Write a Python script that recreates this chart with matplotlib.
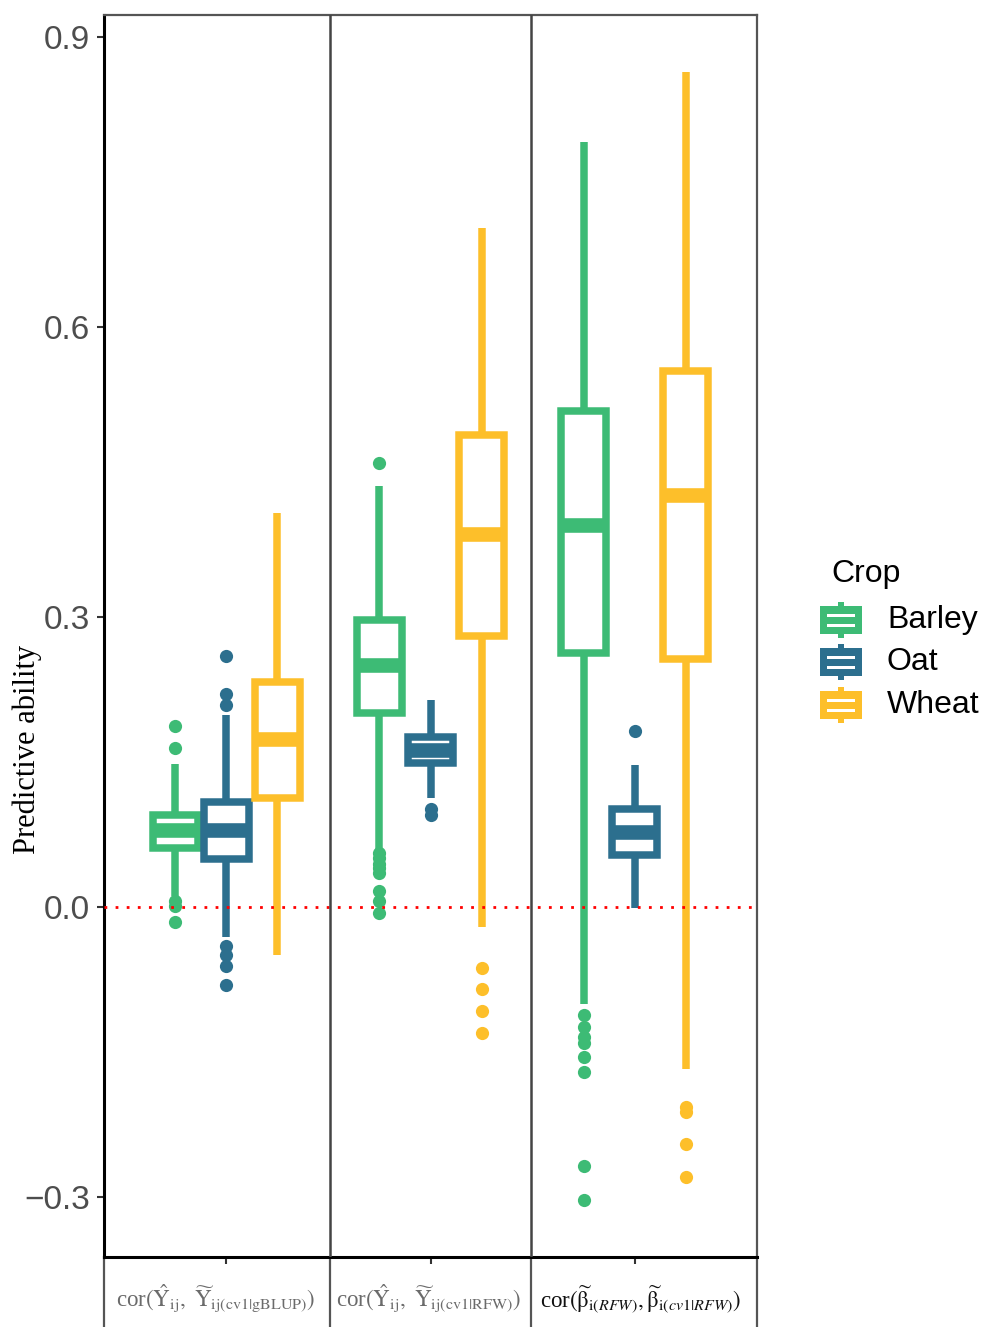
import matplotlib
matplotlib.use('Agg')
import matplotlib.pyplot as plt
from matplotlib.patches import Rectangle
import matplotlib.transforms as mtransforms

plt.rcParams['mathtext.fontset'] = 'stix'

# ---------------- data ----------------
metric_labels = [
    r'cor$(\hat{\mathrm{Y}}_{\mathrm{ij}},\ \widetilde{\mathrm{Y}}_{\mathrm{ij(cv1|gBLUP)}})$',
    r'cor$(\hat{\mathrm{Y}}_{\mathrm{ij}},\ \widetilde{\mathrm{Y}}_{\mathrm{ij(cv1|RFW)}})$',
    r'cor$(\widetilde{\mathrm{\beta}}_{\mathrm{i}(RFW)},\widetilde{\mathrm{\beta}}_{\mathrm{i}(cv1|RFW)})$',
]
crops = ['Barley', 'Oat', 'Wheat']
crop_colors = ['#3dbb75', '#2c6f8e', '#fdbf2a']

# per crop: values for the three metrics
whislo = {'Barley': [0.011, 0.059, -0.100],
          'Oat':    [-0.031, 0.113, -0.001],
          'Wheat':  [-0.050, -0.021, -0.168]}
q1 = {'Barley': [0.061, 0.201, 0.263],
      'Oat':    [0.050, 0.149, 0.054],
      'Wheat':  [0.113, 0.280, 0.257]}
med = {'Barley': [0.080, 0.250, 0.395],
       'Oat':    [0.080, 0.163, 0.078],
       'Wheat':  [0.174, 0.386, 0.426]}
q3 = {'Barley': [0.095, 0.297, 0.513],
      'Oat':    [0.109, 0.176, 0.101],
      'Wheat':  [0.233, 0.488, 0.555]}
whishi = {'Barley': [0.148, 0.436, 0.792],
          'Oat':    [0.199, 0.214, 0.1475],
          'Wheat':  [0.408, 0.703, 0.864]}
fliers = {'Barley': [[0.187, 0.165, 0.006, 0.001, -0.015],
                     [0.459, 0.056, 0.051, 0.045, 0.040, 0.035, 0.017, 0.006, -0.006],
                     [-0.112, -0.124, -0.134, -0.141, -0.155, -0.171, -0.268, -0.303]],
          'Oat':    [[0.260, 0.220, 0.209, -0.040, -0.050, -0.061, -0.081],
                     [0.102, 0.095],
                     [0.182]],
          'Wheat':  [[],
                     [-0.063, -0.085, -0.108, -0.130],
                     [-0.207, -0.212, -0.245, -0.279]]}

y_ticks = [-0.3, 0.0, 0.3, 0.6, 0.9]
y_ticklabels = ['\u22120.3', '0.0', '0.3', '0.6', '0.9']

# ---------------- figure ----------------
W, H = 984, 1327
fig = plt.figure(figsize=(W / 100, H / 100), dpi=100)
ax_l, ax_r, ax_t, ax_b = 104, 757, 15, 1257
ax = fig.add_axes([ax_l / W, 1 - ax_b / H, (ax_r - ax_l) / W, (ax_b - ax_t) / H])

offsets = [-0.25, 0.0, 0.25]
box_w = 0.222
for ci, crop in enumerate(crops):
    col = crop_colors[ci]
    stats = []
    for mi in range(len(metric_labels)):
        stats.append(dict(med=med[crop][mi], q1=q1[crop][mi], q3=q3[crop][mi],
                          whislo=whislo[crop][mi], whishi=whishi[crop][mi],
                          fliers=fliers[crop][mi]))
    positions = [mi + 1 + offsets[ci] for mi in range(len(metric_labels))]
    ax.bxp(stats, positions=positions, widths=box_w, patch_artist=True,
           showcaps=False, manage_ticks=False,
           boxprops=dict(facecolor='white', edgecolor=col, linewidth=5.4),
           medianprops=dict(color=col, linewidth=10.5, solid_capstyle='butt'),
           whiskerprops=dict(color=col, linewidth=5.4, solid_capstyle='butt'),
           flierprops=dict(marker='o', markerfacecolor=col, markeredgecolor='none',
                           markersize=9.5))

ax.axhline(0.0, color='red', linewidth=2.0, linestyle=(0, (1, 3)), zorder=5)
for xv in [1.508, 2.492]:
    ax.axvline(xv, color='#444444', linewidth=1.8, zorder=6)

ax.set_xlim(0.4, 3.6)
ax.set_ylim(-0.362, 0.923)
ax.set_yticks(y_ticks)
ax.set_yticklabels(y_ticklabels, family='Liberation Sans', fontsize=24, color='#4d4d4d')
ax.set_xticks([1, 2, 3])
ax.set_xticklabels(['', '', ''])
ax.tick_params(axis='both', length=5, width=1.5, color='#333333')
ax.tick_params(axis='y', pad=5)

# category labels drawn below the axis
trans = mtransforms.blended_transform_factory(ax.transData, ax.transAxes)
label_y = -(1299 - ax_b) / (ax_b - ax_t)
label_shift_px = [-11, -2, 6]
label_colors = ['#6b6b6b', '#6b6b6b', '#111111']
for mi, lab in enumerate(metric_labels):
    tr = trans + mtransforms.ScaledTranslation(label_shift_px[mi] / 100, 0, fig.dpi_scale_trans)
    ax.text(mi + 1, label_y, lab, transform=tr, ha='center', va='center',
            family='Liberation Serif', fontsize=16.5, color=label_colors[mi], clip_on=False)

for side in ['left', 'bottom']:
    ax.spines[side].set_color('black')
    ax.spines[side].set_linewidth(2.2)
for side in ['top', 'right']:
    ax.spines[side].set_color('#555555')
    ax.spines[side].set_linewidth(1.6)

# separators in the label area below the axis
ext = (H - ax_b) / (ax_b - ax_t)
for xv in [0.4, 1.508, 2.492, 3.6]:
    ax.plot([xv, xv], [0, -ext], transform=trans, color='#555555', linewidth=1.6,
            clip_on=False)

fig.text(27 / W, 1 - 749 / H, 'Predictive ability', rotation=90, ha='center', va='center',
         family='Liberation Serif', fontsize=22, color='black')

# ---------------- legend ----------------
lax = fig.add_axes([0, 0, 1, 1])
lax.set_xlim(0, W)
lax.set_ylim(H, 0)
lax.axis('off')
lax.text(831, 574, 'Crop', ha='left', va='center', family='Liberation Sans', fontsize=23)
key_y = [620, 662, 705]
for ci, crop in enumerate(crops):
    col = crop_colors[ci]
    cy = key_y[ci]
    lax.add_patch(Rectangle((837.5, cy - 18), 6, 36, facecolor=col, edgecolor='none'))
    lax.add_patch(Rectangle((820, cy - 14), 42, 28, facecolor=col, edgecolor='none'))
    lax.add_patch(Rectangle((827, cy - 6.5), 28, 3, facecolor='white', edgecolor='none'))
    lax.add_patch(Rectangle((827, cy + 3.5), 28, 3, facecolor='white', edgecolor='none'))
    lax.text(887, cy, crop, ha='left', va='center', family='Liberation Sans', fontsize=23)

fig.savefig('out.png', dpi=100)
